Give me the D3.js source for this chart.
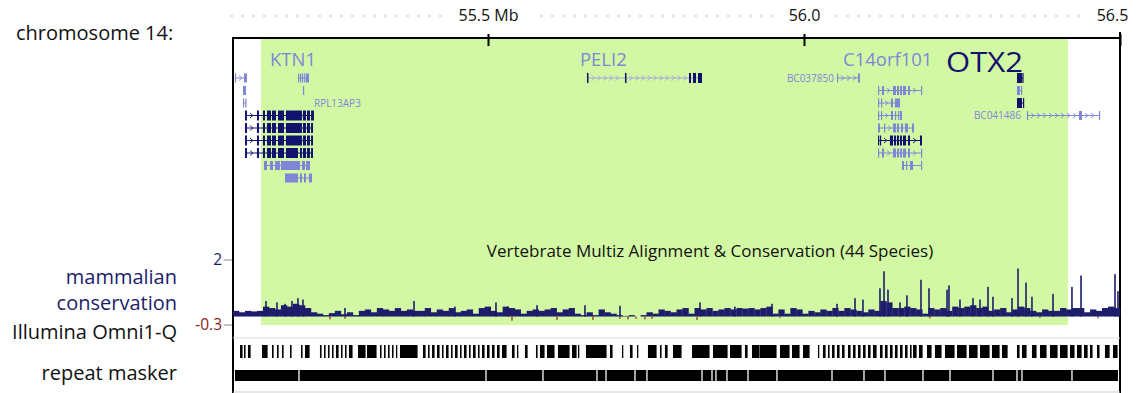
<!DOCTYPE html>
<html>
<head>
<meta charset="utf-8">
<script src="https://cdn.jsdelivr.net/npm/d3@7/dist/d3.min.js"></script>
<style>
  body { margin: 0; background: #fff; }
  svg { display: block; font-family: "Open Sans", sans-serif; }
</style>
</head>
<body>
<svg id="chart" width="1137" height="393"></svg>
<script>
// positions are kb past 55,000,000 on chr14
const VIEW_KB = [96.5, 1500];
const AXIS_TICKS = [500, 1000, 1500];
const AXIS_LABELS = ['55.5 Mb', '56.0', '56.5'];
const HIGHLIGHT_KB = [140.8, 1417.7];

const CHROM_LABEL = 'chromosome 14:';
const TRACK_TITLE = 'Vertebrate Multiz Alignment & Conservation (44 Species)';
const CONS_DOMAIN = [-0.3, 2];
const CONS_TICKS = [2, -0.3];

// mammalian conservation, evenly spaced bins over the view
const CONS_VALUES = [
  0.2, 0.15, 0.2, 0.18, 0.2,
  0.35, 0.3, 0.25, 0.4, 0.35, 0.45, 0.4, 0.3,
  0.15, 0.1, 0.05, 0.12, 0.2, 0.08, 0.15, 0.05,
  0.2, 0.25, 0.15, 0.3, 0.25, 0.2, 0.3, 0.2, 0.25, 0.2,
  0.2, 0.3, 0.15, 0.25, 0.2, 0.3, 0.15, 0.2, 0.25, 0.1,
  0.3, 0.35, 0.2, 0.15, 0.35, 0.3, 0.25, 0.1, 0.2, 0.25,
  0.2, 0.25, 0.3, 0.15, 0.25, 0.3, 0.1, 0.05, 0.15, 0.05,
  0.25, 0.15, 0.1, 0.05, 0.02, 0.05, 0.0, 0.05, 0.15, 0.1,
  0.25, 0.2, 0.15, 0.25, 0.3, 0.1, 0.3, 0.25, 0.3, 0.2,
  0.25, 0.3, 0.25, 0.3, 0.28, 0.3, 0.25, 0.3, 0.35, 0.1,
  0.25, 0.1, 0.3, 0.25, 0.1, 0.2, 0.15, 0.25, 0.2, 0.3,
  0.2, 0.3, 0.25, 0.2, 0.15, 0.25, 0.2, 0.55, 0.5, 0.3,
  0.3, 0.35, 0.3, 0.25, 0.1, 0.3, 0.25, 0.3, 0.2, 0.35,
  0.3, 0.35, 0.4, 0.3, 0.35, 0.2, 0.25, 0.3, 0.15, 0.25,
  0.35, 0.3, 0.2, 0.15, 0.25, 0.2, 0.2, 0.3, 0.25, 0.3,
  0.3, 0.15, 0.25, 0.2, 0.3, 0.35, 0.3
];
// narrow conserved peaks [kb, score]
const CONS_PEAKS = [
  [148.7, 0.55], [166.1, 0.5], [178.8, 0.45], [189.8, 0.55], [199.3, 0.65], [207.2, 0.6],
  [273.7, 0.3], [382.9, 0.55], [447.7, 0.35], [512.6, 0.5], [531.6, 0.35], [577.5, 0.4],
  [653.4, 0.4], [708.8, 0.38], [835.4, 0.5], [890.7, 0.35], [949.3, 0.45], [1052.2, 0.45],
  [1080.7, 0.65], [1093.3, 0.6], [1120.2, 1.0], [1126.6, 1.6], [1132.9, 0.95], [1151.9, 0.5],
  [1162.9, 0.75], [1185.1, 1.3], [1197.8, 1.0], [1226.3, 0.95], [1229.4, 1.1], [1246.8, 0.6],
  [1267.4, 0.65], [1278.5, 0.6], [1291.1, 1.05], [1299.0, 0.7], [1329.1, 0.65], [1338.6, 1.7],
  [1351.3, 1.2], [1360.7, 0.7], [1394.0, 0.8], [1424.0, 1.05], [1438.3, 1.45], [1492.1, 1.5],
  [1496.8, 0.9]
];
const CONS_DIPS = [
  [249.9, -0.1], [273.7, -0.08], [537.9, -0.15], [609.1, -0.12], [666.1, -0.12], [708.8, -0.08],
  [721.5, -0.1], [734.1, -0.08], [748.4, -0.1], [759.5, -0.08], [830.7, -0.12], [962.0, -0.05],
  [1199.3, -0.06], [1373.4, -0.05], [1465.2, -0.06]
];

// Illumina Omni1-Q SNP clusters [start, end]
const SNP_SPANS = [
  [107.6, 112.3], [113.9, 117.0], [120.2, 125.0], [142.4, 151.9], [158.2, 161.4], [166.1, 169.3],
  [174.0, 177.2], [186.7, 189.8], [204.1, 207.2], [210.4, 218.3], [234.1, 237.3], [240.5, 243.6],
  [246.8, 249.9], [253.1, 256.3], [259.4, 264.2], [267.4, 270.5], [273.7, 276.8], [280.0, 286.3],
  [294.3, 306.9], [308.5, 324.3], [329.1, 332.2], [335.4, 338.6], [341.7, 344.9], [348.1, 351.2],
  [354.4, 356.0], [360.7, 389.2], [397.1, 401.9], [405.0, 408.2], [411.4, 416.1], [419.3, 424.0],
  [427.2, 430.3], [433.5, 438.2], [441.4, 444.6], [447.7, 452.5], [455.7, 458.8], [462.0, 466.7],
  [469.9, 473.1], [476.2, 481.0], [484.1, 487.3], [490.5, 495.2], [498.4, 503.1], [506.3, 511.0],
  [514.2, 519.0], [522.1, 530.0], [537.9, 542.7], [545.9, 547.4], [558.5, 563.3], [575.9, 579.1],
  [582.2, 590.1], [593.3, 605.9], [610.7, 629.7], [632.9, 640.8], [642.4, 644.0], [655.0, 688.2],
  [693.0, 697.7], [712.0, 713.6], [724.6, 729.4], [735.8, 737.3], [753.1, 767.4], [772.1, 775.3],
  [780.0, 784.8], [792.7, 806.9], [822.8, 851.2], [856.0, 879.7], [882.9, 901.9], [906.6, 911.4],
  [917.7, 930.3], [930.3, 957.2], [962.0, 977.8], [981.0, 993.6], [998.4, 1009.5], [1022.1, 1023.7],
  [1030.0, 1034.8], [1037.9, 1041.1], [1044.3, 1049.0], [1052.2, 1056.9], [1060.1, 1064.8],
  [1069.6, 1074.3], [1077.5, 1082.2], [1085.4, 1090.1], [1093.3, 1098.1], [1101.2, 1106.0],
  [1109.1, 1115.5], [1120.2, 1125.0], [1128.1, 1132.9], [1136.0, 1140.8], [1143.9, 1148.7],
  [1151.9, 1156.6], [1159.8, 1164.5], [1167.7, 1170.9], [1172.5, 1178.8], [1181.9, 1188.3],
  [1194.6, 1202.5], [1207.2, 1218.3], [1223.1, 1238.9], [1242.1, 1257.9], [1261.0, 1275.3],
  [1278.5, 1294.3], [1297.4, 1310.1], [1313.3, 1322.8], [1337.0, 1341.7], [1344.9, 1352.8],
  [1360.7, 1368.6], [1373.4, 1384.4], [1389.2, 1401.9], [1405.0, 1417.7], [1420.9, 1428.7],
  [1431.9, 1439.9], [1443.0, 1449.4], [1452.5, 1457.2], [1463.6, 1468.3], [1476.2, 1484.2],
  [1488.9, 1496.8]
];

// RepeatMasker coverage and the breaks between elements
const REPEAT_SPAN = [99.6, 1496.8];
const REPEAT_BREAKS = [
  200.9, 496.8, 587.0, 672.4, 686.7, 732.6, 751.5, 838.6, 854.4, 860.7, 878.1, 911.4,
  957.2, 1044.3, 1094.9, 1128.1, 1188.3, 1231.0, 1299.0, 1337.0, 1344.9, 1424.0
];

// gene models: row, tone, exons [start, end]
const TRANSCRIPTS = [
  { row: 0, tone: 'light', exons: [[99.6, 101.2], [113.9, 118.6]] },
  { row: 0, tone: 'light', exons: [[199.3, 201.0], [202.5, 204.3], [205.6, 207.2], [209.0, 210.4], [212.0, 216.7]] },
  { row: 1, tone: 'light', exons: [[112.3, 117.0]] },
  { row: 1, tone: 'light', exons: [[207.2, 208.2]] },
  { row: 2, tone: 'light', exons: [[112.3, 113.3], [116.0, 117.0]] },
  { row: 3, tone: 'dark', exons: [[115.5, 118.6], [134.4, 137.6], [143.9, 147.1], [150.3, 156.6], [158.2, 164.5], [167.7, 177.2], [180.3, 205.6], [207.2, 212.0], [213.6, 218.3], [220.0, 224.6]] },
  { row: 4, tone: 'dark', exons: [[115.5, 118.6], [134.4, 137.6], [143.9, 147.1], [150.3, 156.6], [158.2, 164.5], [167.7, 177.2], [180.3, 205.6], [207.2, 212.0], [213.6, 218.3], [220.0, 223.1]] },
  { row: 5, tone: 'dark', exons: [[115.5, 118.6], [134.4, 137.6], [143.9, 147.1], [150.3, 156.6], [158.2, 164.5], [167.7, 177.2], [180.3, 205.6], [207.2, 212.0], [213.6, 218.3], [220.0, 223.1]] },
  { row: 6, tone: 'dark', exons: [[115.5, 118.6], [134.4, 137.6], [143.9, 147.1], [150.3, 156.6], [158.2, 164.5], [167.7, 177.2], [180.3, 199.3], [202.5, 205.6], [207.2, 212.0], [213.6, 218.3], [220.0, 223.1]] },
  { row: 7, tone: 'light', exons: [[145.5, 150.3], [155.0, 159.8], [163.0, 170.8], [172.4, 202.5], [205.6, 210.4], [212.0, 218.3]] },
  { row: 8, tone: 'light', exons: [[178.8, 199.3], [202.5, 205.6], [208.8, 212.0], [216.7, 221.5]] },
  // PELI2
  { row: 0, tone: 'dark', line: 'pale', exons: [[656.6, 659.0], [716.7, 719.1], [818.0, 821.2], [824.3, 829.1], [832.2, 838.6]] },
  // BC037850
  { row: 0, tone: 'light', exons: [[1052.2, 1053.7], [1085.4, 1088.5]] },
  // C14orf101
  { row: 1, tone: 'light', exons: [[1117.1, 1118.6], [1123.4, 1126.6], [1140.8, 1145.5], [1147.1, 1150.3], [1151.9, 1155.0], [1156.6, 1161.4], [1164.5, 1167.7], [1185.1, 1186.7]] },
  { row: 2, tone: 'light', exons: [[1117.1, 1118.6], [1121.8, 1123.4], [1137.6, 1140.8], [1143.9, 1151.9]] },
  { row: 3, tone: 'light', exons: [[1117.1, 1118.6], [1121.8, 1123.4], [1137.6, 1140.8], [1143.9, 1145.5], [1148.7, 1150.3], [1151.9, 1155.0]] },
  { row: 4, tone: 'light', exons: [[1117.1, 1120.2], [1126.6, 1128.1], [1140.8, 1145.5], [1147.1, 1150.3], [1153.4, 1156.6], [1159.8, 1164.5], [1170.9, 1174.0]] },
  { row: 5, tone: 'dark', exons: [[1117.1, 1118.6], [1120.2, 1121.8], [1136.0, 1140.8], [1142.4, 1145.5], [1147.1, 1150.3], [1151.9, 1155.0], [1156.6, 1161.4], [1164.5, 1167.7], [1183.5, 1186.7]] },
  { row: 6, tone: 'light', exons: [[1117.1, 1118.6], [1123.4, 1126.6], [1140.8, 1145.5], [1147.1, 1150.3], [1151.9, 1155.0], [1156.6, 1161.4], [1164.5, 1167.7], [1185.1, 1186.7]] },
  { row: 7, tone: 'light', exons: [[1155.0, 1158.2], [1161.4, 1162.9], [1167.7, 1172.5], [1185.1, 1186.7]] },
  // OTX2
  { row: 0, tone: 'dark', exons: [[1337.0, 1344.9], [1345.5, 1346.5]] },
  { row: 1, tone: 'light', exons: [[1337.0, 1341.7], [1343.3, 1344.9]] },
  { row: 2, tone: 'dark', exons: [[1337.0, 1344.9], [1346.5, 1348.1]] },
  // BC041486
  { row: 3, tone: 'light', exons: [[1352.8, 1354.4], [1435.1, 1439.9], [1466.7, 1468.3]] }
];

const GENE_NAMES = ['KTN1', 'PELI2', 'C14orf101', 'OTX2'];
const GENE_NAME_KB = [155.0, 645.5, 1061.7, 1224.7];
const GENE_NAME_TONE = ['light', 'light', 'light', 'dark'];

const SMALL_NAMES = ['RPL13AP3', 'BC037850', 'BC041486'];
const SMALL_NAME_KB = [224.6, 1047.4, 1343.3];
const SMALL_NAME_ROW = [2, 0, 3];
const SMALL_NAME_ANCHOR = ['start', 'end', 'end'];

const TRACK_LABELS = ['mammalian', 'conservation', 'Illumina Omni1-Q', 'repeat masker'];

// ---- layout ----
const LEFT = 233, RIGHT = 1120;
const AXIS_Y = 38, BOTTOM = 393;
const ROW0_Y = 78, ROW_STEP = 12.5;
const COLOR_GREEN = '#d3f8a4';
const COLOR_LIGHT = '#7f86d8';
const COLOR_DARK = '#12126e';
const COLOR_PALE_LINE = '#a2a6d6';
const COLOR_NAVY = '#1d1d6b';
const COLOR_DIP = '#9a3c1e';

const svg = d3.select('#chart');
const x = d3.scaleLinear().domain(VIEW_KB).range([LEFT, RIGHT]);
const yCons = d3.scaleLinear().domain(CONS_DOMAIN).range([325, 260]);
const rowY = r => ROW0_Y + ROW_STEP * r;
const toneColor = t => (t === 'dark' ? COLOR_DARK : COLOR_LIGHT);

// dotted guide behind the scale labels
[[230, 445], [540, 775], [835, 1085]].forEach(([a, b]) => {
  svg.append('line')
    .attr('x1', a).attr('x2', b).attr('y1', 16).attr('y2', 16)
    .attr('stroke', '#e2e2e2').attr('stroke-width', 2.5)
    .attr('stroke-dasharray', '3,8');
});

svg.append('text')
  .attr('x', 16).attr('y', 40)
  .attr('font-size', 20).attr('fill', '#111')
  .text(CHROM_LABEL);

// highlighted region
svg.append('rect')
  .attr('x', x(HIGHLIGHT_KB[0])).attr('y', AXIS_Y)
  .attr('width', x(HIGHLIGHT_KB[1]) - x(HIGHLIGHT_KB[0]))
  .attr('height', yCons(-0.3) - AXIS_Y)
  .attr('fill', COLOR_GREEN);

// position axis
const axis = d3.axisBottom(x)
  .tickValues(AXIS_TICKS)
  .tickSizeInner(12).tickSizeOuter(0)
  .tickFormat((d, i) => AXIS_LABELS[i]);
const gAxis = svg.append('g').attr('transform', `translate(0,${AXIS_Y - 4})`).call(axis);
gAxis.select('.domain').remove();
gAxis.selectAll('.tick line').attr('stroke', '#000').attr('stroke-width', 2);
gAxis.selectAll('.tick text')
  .attr('y', -13).attr('dy', 0)
  .attr('font-size', 16).attr('fill', '#111')
  .attr('font-family', '"Open Sans", sans-serif')
  .attr('dx', (d, i) => (i === AXIS_TICKS.length - 1 ? -8 : 0));

// frame
svg.append('line').attr('x1', LEFT).attr('x2', RIGHT).attr('y1', AXIS_Y).attr('y2', AXIS_Y)
  .attr('stroke', '#000').attr('stroke-width', 2);
svg.append('line').attr('x1', LEFT).attr('x2', LEFT).attr('y1', AXIS_Y - 1).attr('y2', BOTTOM)
  .attr('stroke', '#000').attr('stroke-width', 2);
svg.append('line').attr('x1', RIGHT).attr('x2', RIGHT).attr('y1', 32).attr('y2', BOTTOM)
  .attr('stroke', '#000').attr('stroke-width', 2);
svg.append('line').attr('x1', LEFT).attr('x2', RIGHT).attr('y1', 338).attr('y2', 338)
  .attr('stroke', '#dcdcdc').attr('stroke-width', 1);
svg.append('line').attr('x1', LEFT).attr('x2', RIGHT).attr('y1', 392).attr('y2', 392)
  .attr('stroke', '#cfcfcf').attr('stroke-width', 1);

// gene models
const gGenes = svg.append('g');
TRANSCRIPTS.forEach(t => {
  const y = rowY(t.row);
  const color = toneColor(t.tone);
  const lineColor = t.line === 'pale' ? COLOR_PALE_LINE : color;
  const exonH = t.tone === 'dark' ? 10 : 9;
  const x0 = x(t.exons[0][0]);
  const x1 = x(t.exons[t.exons.length - 1][1]);
  gGenes.append('line')
    .attr('x1', x0).attr('x2', x1).attr('y1', y).attr('y2', y)
    .attr('stroke', lineColor).attr('stroke-width', 1);
  // strand chevrons in the introns
  for (let i = 0; i < t.exons.length - 1; i++) {
    const a = x(t.exons[i][1]), b = x(t.exons[i + 1][0]);
    for (let cx = a + 5; cx < b - 3; cx += 6) {
      gGenes.append('path')
        .attr('d', `M${cx - 2},${y - 2.5}L${cx + 1},${y}L${cx - 2},${y + 2.5}`)
        .attr('fill', 'none').attr('stroke', lineColor).attr('stroke-width', 0.9);
    }
  }
  gGenes.selectAll(null)
    .data(t.exons)
    .join('rect')
    .attr('x', d => x(d[0]))
    .attr('width', d => Math.max(1.2, x(d[1]) - x(d[0])))
    .attr('y', y - exonH / 2)
    .attr('height', exonH)
    .attr('fill', color);
});

GENE_NAMES.forEach((name, i) => {
  const big = name === 'OTX2';
  const label = svg.append('text')
    .attr('x', x(GENE_NAME_KB[i]))
    .attr('y', big ? 72 : 66)
    .attr('font-size', big ? 28 : 18.5)
    .attr('fill', toneColor(GENE_NAME_TONE[i]))
    .text(name);
  if (big) label.attr('textLength', 77).attr('lengthAdjust', 'spacingAndGlyphs');
});

SMALL_NAMES.forEach((name, i) => {
  svg.append('text')
    .attr('x', x(SMALL_NAME_KB[i]))
    .attr('y', rowY(SMALL_NAME_ROW[i]) + 3.5)
    .attr('text-anchor', SMALL_NAME_ANCHOR[i])
    .attr('font-size', 10).attr('fill', COLOR_LIGHT)
    .text(name);
});

// conservation track
svg.append('text')
  .attr('x', 710).attr('y', 257)
  .attr('text-anchor', 'middle')
  .attr('font-size', 17).attr('fill', '#111')
  .text(TRACK_TITLE);

const binKb = (VIEW_KB[1] - VIEW_KB[0]) / CONS_VALUES.length;
const gCons = svg.append('g');
gCons.selectAll('rect.bin')
  .data(CONS_VALUES)
  .join('rect')
  .attr('class', 'bin')
  .attr('x', (d, i) => x(VIEW_KB[0] + i * binKb))
  .attr('width', x(VIEW_KB[0] + binKb) - x(VIEW_KB[0]) + 0.3)
  .attr('y', d => yCons(d))
  .attr('height', d => yCons(0) - yCons(d))
  .attr('fill', COLOR_NAVY);
gCons.selectAll('rect.peak')
  .data(CONS_PEAKS)
  .join('rect')
  .attr('class', 'peak')
  .attr('x', d => x(d[0]) - 0.8)
  .attr('width', 1.6)
  .attr('y', d => yCons(d[1]))
  .attr('height', d => yCons(0) - yCons(d[1]))
  .attr('fill', COLOR_NAVY);
gCons.selectAll('rect.dip')
  .data(CONS_DIPS)
  .join('rect')
  .attr('class', 'dip')
  .attr('x', d => x(d[0]) - 0.7)
  .attr('width', 1.4)
  .attr('y', yCons(0))
  .attr('height', d => yCons(d[1]) - yCons(0))
  .attr('fill', COLOR_DIP);

CONS_TICKS.forEach(v => {
  svg.append('line')
    .attr('x1', LEFT - 9).attr('x2', LEFT - 1).attr('y1', yCons(v)).attr('y2', yCons(v))
    .attr('stroke', '#888').attr('stroke-width', 1);
  svg.append('text')
    .attr('x', LEFT - 11).attr('y', yCons(v) + 5)
    .attr('text-anchor', 'end')
    .attr('font-size', 15.5)
    .attr('fill', v > 0 ? COLOR_NAVY : '#8b1c1c')
    .text(v);
});

// Illumina track
svg.append('g').selectAll('rect')
  .data(SNP_SPANS)
  .join('rect')
  .attr('x', d => x(d[0]))
  .attr('width', d => Math.max(1.3, x(d[1]) - x(d[0]) - 0.4))
  .attr('y', 345).attr('height', 13)
  .attr('fill', '#000');

// repeat masker track
svg.append('rect')
  .attr('x', x(REPEAT_SPAN[0])).attr('width', x(REPEAT_SPAN[1]) - x(REPEAT_SPAN[0]))
  .attr('y', 370).attr('height', 11)
  .attr('fill', '#000');
svg.append('g').selectAll('rect')
  .data(REPEAT_BREAKS)
  .join('rect')
  .attr('x', d => x(d) - 0.75).attr('width', 1.5)
  .attr('y', 370).attr('height', 11)
  .attr('fill', '#d8d8d8');

// left labels
const labelY = [284, 310, 339, 380];
TRACK_LABELS.forEach((t, i) => {
  svg.append('text')
    .attr('x', 177).attr('y', labelY[i])
    .attr('text-anchor', 'end')
    .attr('font-size', 20)
    .attr('fill', i < 2 ? COLOR_NAVY : '#111')
    .text(t);
});
</script>
</body>
</html>
